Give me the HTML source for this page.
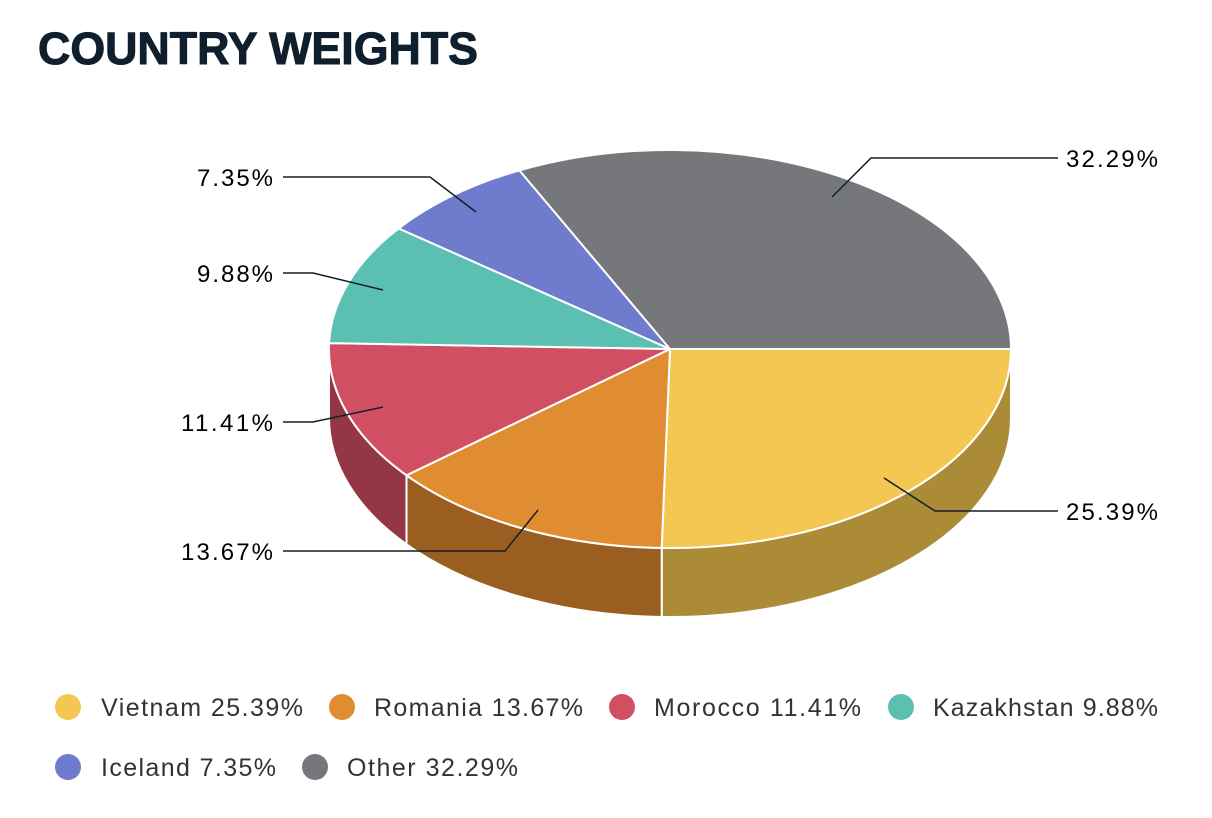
<!DOCTYPE html>
<html><head><meta charset="utf-8"><style>
html,body{margin:0;padding:0;background:#fff;}
svg{display:block;}
</style></head><body>
<svg width="1212" height="818" viewBox="0 0 1212 818" xmlns="http://www.w3.org/2000/svg">
<text x="38" y="64" font-family="Liberation Sans, sans-serif" font-weight="bold" font-size="45" fill="#0f1f2d" textLength="440" lengthAdjust="spacingAndGlyphs" stroke="#0f1f2d" stroke-width="1">COUNTRY WEIGHTS</text>
<g stroke="#fff" stroke-width="2" stroke-linejoin="round">
<path d="M1011,349 A341,199 0 0 1 661.7,548 L661.7,617 A341,199 0 0 0 1011,418 Z" fill="#ab8b35"/>
<path d="M661.7,548 A341,199 0 0 1 406.5,475.3 L406.5,544.3 A341,199 0 0 0 661.7,617 Z" fill="#9a5f20"/>
<path d="M406.5,475.3 A341,199 0 0 1 329,349 L329,418 A341,199 0 0 0 406.5,544.3 Z" fill="#933645"/>
<path d="M670,349 L1011,349 A341,199 0 0 1 661.7,548 Z" fill="#f4c752"/>
<path d="M670,349 L661.7,548 A341,199 0 0 1 406.5,475.3 Z" fill="#e08d32"/>
<path d="M670,349 L406.5,475.3 A341,199 0 0 1 329.1,343.1 Z" fill="#d14f63"/>
<path d="M670,349 L329.1,343.1 A341,199 0 0 1 398.7,228.4 Z" fill="#5bbfb2"/>
<path d="M670,349 L398.7,228.4 A341,199 0 0 1 519.4,170.4 Z" fill="#6f7bcc"/>
<path d="M670,349 L519.4,170.4 A341,199 0 0 1 1011,349 Z" fill="#75777b"/>
</g>
<g stroke="#0f1f2d" stroke-width="1.5" fill="none">
<polyline points="283,177 430,177 476,212"/>
<polyline points="283,273 313,273 383,290"/>
<polyline points="283,422 313,422 383,407"/>
<polyline points="283,551 505,551 538,510"/>
<polyline points="884,478 935,511 1058,511"/>
<polyline points="832,197 871,158 1058,158"/>
</g>
<g font-family="Liberation Sans, sans-serif" font-size="24" fill="#000" lengthAdjust="spacingAndGlyphs">
<text x="197" y="186" textLength="76">7.35%</text>
<text x="197" y="282" textLength="76">9.88%</text>
<text x="181" y="431" textLength="92">11.41%</text>
<text x="181" y="560" textLength="92">13.67%</text>
<text x="1066" y="520" textLength="92">25.39%</text>
<text x="1066" y="167" textLength="92">32.29%</text>
</g>
<g font-family="Liberation Sans, sans-serif" font-size="25" fill="#333">
<circle cx="68" cy="707" r="13" fill="#f4c752"/><text x="101" y="716" textLength="202">Vietnam 25.39%</text>
<circle cx="342" cy="707" r="13" fill="#e08d32"/><text x="374" y="716" textLength="209">Romania 13.67%</text>
<circle cx="622" cy="707" r="13" fill="#d14f63"/><text x="654" y="716" textLength="207">Morocco 11.41%</text>
<circle cx="901" cy="707" r="13" fill="#5bbfb2"/><text x="933" y="716" textLength="225">Kazakhstan 9.88%</text>
<circle cx="68" cy="767" r="13" fill="#6f7bcc"/><text x="101" y="776" textLength="175">Iceland 7.35%</text>
<circle cx="315" cy="767" r="13" fill="#75777b"/><text x="347" y="776" textLength="171">Other 32.29%</text>
</g>
</svg>
</body></html>
